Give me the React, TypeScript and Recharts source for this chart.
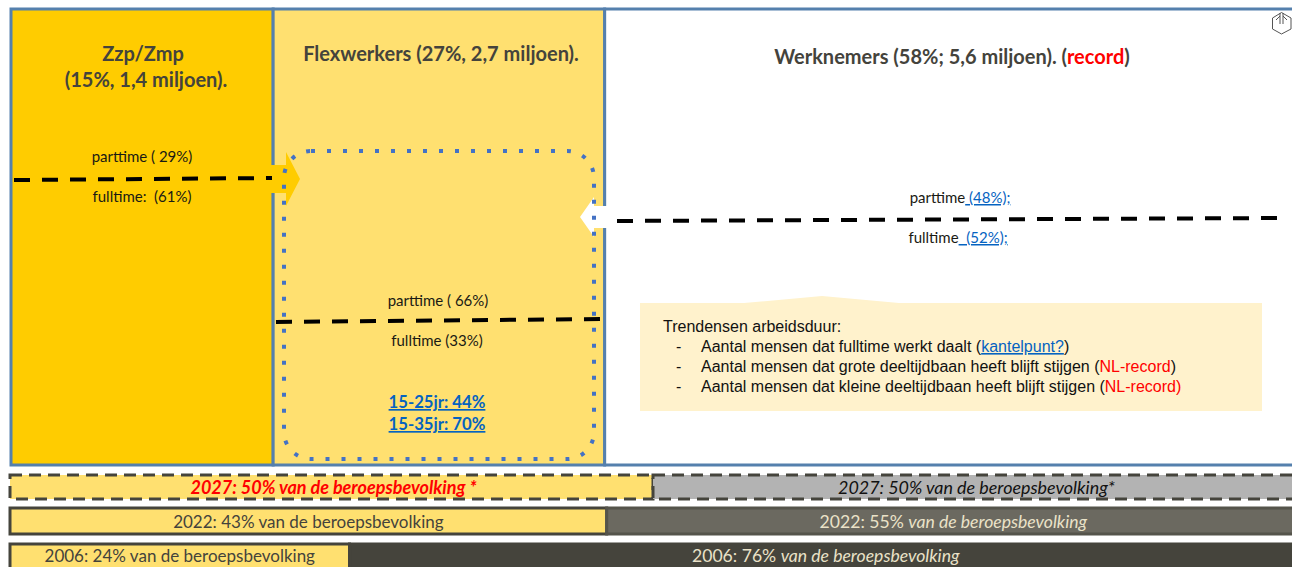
import React from 'react';
import { BarChart, Bar, ComposedChart, Line, XAxis, YAxis, LabelList } from 'recharts';

const panelNames = ['Zzp/Zmp', 'Flexwerkers', 'Werknemers'];
const panelShares = [20.4, 25.8, 53.8]; // drawn widths, not the % in the titles

const rowYears = ['2027', '2022', '2006'];
const flexShares = [50, 46.4, 26.4];
const employeeShares = [50, 53.6, 73.6];
const flexLabels = [
  '2027: 50% van de beroepsbevolking *',
  '2022: 43% van de beroepsbevolking',
  '2006: 24% van de beroepsbevolking',
];
const employeeLabels = [
  '2027: 50% van de beroepsbevolking*',
  '2022: 55% van de beroepsbevolking',
  '2006: 76% van de beroepsbevolking',
];
const trendLines = [
  'Aantal mensen dat fulltime werkt daalt (',
  'Aantal mensen dat grote deeltijdbaan heeft blijft stijgen (',
  'Aantal mensen dat kleine deeltijdbaan heeft blijft stijgen (',
];

// dashed parttime/fulltime dividers, in slide units
const zzpDivider = [{ x: 14, y: 180 }, { x: 272, y: 178 }];
const flexDivider = [{ x: 276, y: 322 }, { x: 600, y: 319 }];
const employeeDivider = [{ x: 617, y: 221 }, { x: 1279, y: 218 }];

const CHART_W = 1300;
const YELLOW = '#FFE070';
const GOLD = '#FFCC00';
const BLUE_EDGE = '#5580AD';
const LINK = '#0563C1';
const TITLE = '#44433C';
const CREAM = '#EAE2C8';
const DOTS = '#4472C4';
const calibri = 'Lato, Carlito, sans-serif';
const arial = '"Liberation Sans", Arial, sans-serif';

const panelData = [
  panelNames.reduce((row: any, name, i) => ({ ...row, [name]: panelShares[i] }), { name: 'beroepsbevolking' }),
];
const rowData = rowYears.map((year, i) => ({
  year,
  flex: flexShares[i],
  employee: employeeShares[i],
  flexLabel: flexLabels[i],
  employeeLabel: employeeLabels[i],
}));

// label in the middle of a segment; tail = the part after "2022: 55% " goes italic
const segmentLabel = (opts: { color: string; size: number; italic?: boolean; tail?: boolean; bold?: boolean; shift?: number; lift?: number }) => (p: any) => {
  const text = String(p.value);
  const head = text.slice(0, 10);
  const rest = text.slice(10);
  return (
    <text
      x={p.x + p.width / 2 + (opts.shift || 0)}
      y={p.y + p.height / 2 + 7 - (opts.lift || 0)}
      textAnchor="middle"
      fontFamily={calibri}
      fontSize={opts.size}
      fill={opts.color}
      fontWeight={opts.bold ? 700 : 400}
      fontStyle={opts.italic ? 'italic' : 'normal'}
    >
      {opts.tail ? (
        <>
          <tspan>{head}</tspan>
          <tspan fontStyle="italic">{rest}</tspan>
        </>
      ) : (
        text
      )}
    </text>
  );
};

const Row = ({ index, top, height, flexEdge, employeeEdge, employeeFill, dash, flexText, employeeText }: any) => (
  <div style={{ position: 'absolute', left: 0, top: top - 2 }}>
    <BarChart
      width={CHART_W}
      height={height + 4}
      layout="vertical"
      data={[rowData[index]]}
      margin={{ top: 2, bottom: 2, left: 10, right: 4 }}
      barCategoryGap={0}
    >
      <XAxis type="number" domain={[0, 100]} hide />
      <YAxis type="category" dataKey="year" hide />
      <Bar dataKey="flex" stackId="a" fill={YELLOW} stroke={flexEdge} strokeWidth={3} strokeDasharray={dash} isAnimationActive={false}>
        <LabelList dataKey="flexLabel" content={flexText} />
      </Bar>
      <Bar dataKey="employee" stackId="a" fill={employeeFill} stroke={employeeEdge} strokeWidth={3} strokeDasharray={dash} isAnimationActive={false}>
        <LabelList dataKey="employeeLabel" content={employeeText} />
      </Bar>
    </BarChart>
  </div>
);

const Centered = ({ x, y, size = 15, weight = 400, color = '#1a1a14', children }: any) => (
  <text x={x} y={y} textAnchor="middle" fontFamily={calibri} fontSize={size} fontWeight={weight} fill={color} style={{ whiteSpace: 'pre' }}>
    {children}
  </text>
);

const Divider = ({ points }: any) => (
  <Line data={points} dataKey="y" stroke="#000" strokeWidth={4} strokeDasharray="16 12" dot={false} activeDot={false} isAnimationActive={false} />
);

export default function App() {
  return (
    <div style={{ position: 'absolute', left: 0, top: 0, width: 1292, height: 567, overflow: 'hidden', background: '#fff' }}>
      <div style={{ position: 'absolute', left: 0, top: 7 }}>
        <BarChart
          width={CHART_W}
          height={460}
          layout="vertical"
          data={panelData}
          margin={{ top: 2, bottom: 2, left: 11, right: 4 }}
          barCategoryGap={0}
        >
          <XAxis type="number" domain={[0, 100]} hide />
          <YAxis type="category" dataKey="name" hide />
          <Bar dataKey={panelNames[0]} stackId="p" fill={GOLD} stroke={BLUE_EDGE} strokeWidth={3} isAnimationActive={false} />
          <Bar dataKey={panelNames[1]} stackId="p" fill={YELLOW} stroke={BLUE_EDGE} strokeWidth={3} isAnimationActive={false} />
          <Bar dataKey={panelNames[2]} stackId="p" fill="#FFFFFF" stroke={BLUE_EDGE} strokeWidth={3} isAnimationActive={false} />
        </BarChart>
      </div>

      <Row
        index={0}
        top={475}
        height={24}
        flexEdge="#45443C"
        employeeEdge="#45443C"
        employeeFill="#B3B3B3"
        dash="12 7"
        flexText={segmentLabel({ color: '#FF0000', size: 18, italic: true, bold: true, shift: 2 })}
        employeeText={segmentLabel({ color: '#111', size: 17.9, italic: true, shift: 2 })}
      />
      <Row
        index={1}
        top={508}
        height={26}
        flexEdge="#45443C"
        employeeEdge="#55544B"
        employeeFill="#6B6960"
        flexText={segmentLabel({ color: TITLE, size: 17 })}
        employeeText={segmentLabel({ color: CREAM, size: 17.6, tail: true, shift: 2 })}
      />
      <Row
        index={2}
        top={544}
        height={28}
        flexEdge="#45443C"
        employeeEdge="#45443C"
        employeeFill="#45443C"
        flexText={segmentLabel({ color: TITLE, size: 17, lift: 3 })}
        employeeText={segmentLabel({ color: CREAM, size: 17.6, tail: true, shift: 3, lift: 3 })}
      />

      {/* annotation layer, x/y scale is the slide itself */}
      <div style={{ position: 'absolute', left: 0, top: 0 }}>
        <ComposedChart width={1292} height={567} margin={{ top: 0, right: 0, bottom: 0, left: 0 }}>
          <XAxis type="number" dataKey="x" domain={[0, 1292]} hide allowDuplicatedCategory={false} />
          <YAxis type="number" domain={[0, 567]} reversed hide />

          <polygon points="270,165 286,165 286,152 300,179 286,206 286,193 270,193" fill={GOLD} />
          <polygon points="607,206 594,206 594,197 580,217 594,237 594,228 607,228" fill="#fff" />
          <path d="M640 303 L744 303 L822 296 L899 303 L1262 303 L1262 411 L640 411 Z" fill="#FFF2CC" />
          <rect x={284} y={151} width={310} height={308} rx={27} fill="none" stroke={DOTS} strokeWidth={4} strokeDasharray="4 12" />

          {Divider({ points: zzpDivider })}
          {Divider({ points: flexDivider })}
          {Divider({ points: employeeDivider })}

          <Centered x={143} y={61} size={20} weight={700} color={TITLE}>Zzp/Zmp</Centered>
          <Centered x={146} y={87} size={20} weight={700} color={TITLE}>(15%, 1,4 miljoen).</Centered>
          <Centered x={441} y={61} size={20} weight={700} color={TITLE}>Flexwerkers (27%, 2,7 miljoen).</Centered>
          <Centered x={952} y={64} size={20} weight={700} color={TITLE}>
            Werknemers (58%; 5,6 miljoen). (<tspan fill="#FF0000">record</tspan>)
          </Centered>

          <Centered x={142} y={162}>parttime ( 29%)</Centered>
          <Centered x={142} y={202}>fulltime:  (61%)</Centered>
          <Centered x={438} y={306}>parttime ( 66%)</Centered>
          <Centered x={437} y={346}>fulltime (33%)</Centered>
          <Centered x={437} y={408} size={16.7} weight={700} color={LINK}>
            <tspan textDecoration="underline">15-25jr: 44%</tspan>
          </Centered>
          <Centered x={437} y={430} size={16.7} weight={700} color={LINK}>
            <tspan textDecoration="underline">15-35jr: 70%</tspan>
          </Centered>
          <Centered x={960} y={203}>
            parttime<tspan fill={LINK} textDecoration="underline"> (48%);</tspan>
          </Centered>
          <Centered x={958} y={243}>
            fulltime<tspan fill={LINK} textDecoration="underline">  (52%);</tspan>
          </Centered>

          <g fontFamily={arial} fontSize={16} fill="#111">
            <text x={663} y={332}>Trendensen arbeidsduur:</text>
            <text x={676} y={352}>-</text>
            <text x={676} y={372}>-</text>
            <text x={676} y={392}>-</text>
            <text x={701} y={352}>
              {trendLines[0]}
              <tspan fill={LINK} textDecoration="underline">kantelpunt?</tspan>)
            </text>
            <text x={701} y={372}>
              {trendLines[1]}
              <tspan fill="#FF0000">NL-record</tspan>)
            </text>
            <text x={701} y={392}>
              {trendLines[2]}
              <tspan fill="#FF0000">NL-record)</tspan>
            </text>
          </g>

          <g fill="none" stroke="#555" strokeWidth={1}>
            <polygon points="1281.5,12.5 1291,18 1291,29 1281.5,34 1272.5,29 1272.5,18" fill="#fff" />
            <path d="M1280 13 V24 M1283 13 V24 M1280 16 L1276 20 M1283 16 L1287 20" />
          </g>
        </ComposedChart>
      </div>
    </div>
  );
}
